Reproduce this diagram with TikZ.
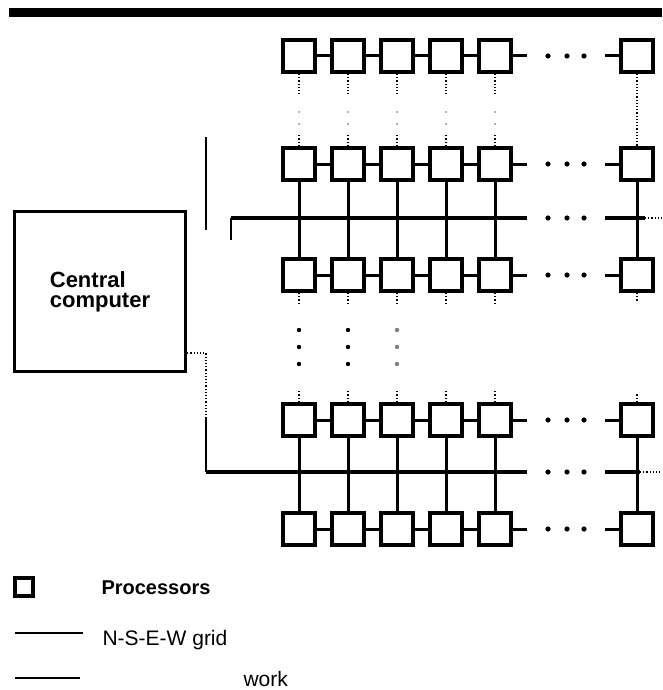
\documentclass[tikz,border=0pt]{standalone}
\usepackage{fontspec}
\setsansfont{Liberation Sans}
\usepackage{tikz}

\tikzset{
  proc/.style={draw, line width=4pt, minimum size=32pt, inner sep=0pt},
  link/.style={line width=3pt},
  bus/.style={line width=3.2pt},
  faint/.style={line width=1.2pt, dotted},
}

\begin{document}
\begin{tikzpicture}[x=1pt, y=-1pt, font=\sffamily]
    \useasboundingbox (0,0) rectangle (662,690);

    % Heavy rule across the top
    \fill (9,8) rectangle (662,17);

    % Processor array (5 rows, 5 columns plus the last one)
    \foreach \r/\y in {1/56,2/164,3/275,4/420,5/529}
        \foreach \c/\x in {1/299,2/348,3/397,4/446,5/495,6/637}
            \node[proc] (p-\r-\c) at (\x,\y) {};

    % E-W links, with dots for the missing columns
    \foreach \r/\y in {1/56,2/164,3/275,4/420,5/529} {
        \foreach \c [evaluate=\c as \n using int(\c+1)] in {1,...,4}
            \draw[link] (p-\r-\c.east) -- (p-\r-\n.west);
        \coordinate (e-\r) at (527,\y);
        \coordinate (w-\r) at (605,\y);
        \draw[link] (p-\r-5.east) -- (e-\r);
        \draw[link] (w-\r) -- (p-\r-6.west);
        \foreach \x in {548,567,584}
            \fill (\x,\y) circle (2.6);
    }

    % N-S links through the buses
    \foreach \c in {1,...,6} {
        \draw[link] (p-2-\c.south) -- (p-3-\c.north);
        \draw[link] (p-4-\c.south) -- (p-5-\c.north);
    }

    % Missing rows (dotted stubs and dots)
    \foreach \c/\x in {1/299,2/348,3/397,4/446,5/495} {
        \draw[faint] (p-1-\c.south) -- ++(0,20);
        \draw[faint] (p-2-\c.north) -- ++(0,-12);
        \fill[gray] (\x,112) circle (1);
        \fill[gray] (\x,124) circle (1);
        \draw[faint] (p-3-\c.south) -- ++(0,12);
        \draw[faint] (p-4-\c.north) -- ++(0,-12);
    }
    \draw[faint] (p-1-6.south) -- (p-2-6.north);
    \draw[faint] (p-3-6.south) -- ++(0,8);
    \draw[faint] (p-4-6.north) -- ++(0,-8);
    \foreach \x/\k in {299/black,348/black,397/gray}
        \foreach \y in {330,347,364}
            \fill[\k] (\x,\y) circle (2.2);

    % Central computer
    \node[draw, line width=3.5pt, minimum width=171pt, minimum height=160pt,
          align=left, font=\sffamily\bfseries\fontsize{22}{20}\selectfont]
          (cc) at (100,291.5) {Central\\computer};

    % Upper bus
    \coordinate (b1-w) at (231,240);
    \coordinate (b1-c) at (231,218);
    \coordinate (b1-e) at (527,218);
    \coordinate (b1-f) at (605,218);
    \coordinate (b1-g) at (645,218);
    \coordinate (b1-h) at (662,218);
    \draw[line width=1.8pt] (b1-w) -- (b1-c);
    \draw[bus] (b1-c) -- (b1-e);
    \draw[bus] (b1-f) -- (b1-g);
    \draw[faint, line width=1.6pt] (b1-g) -- (b1-h);
    \foreach \x in {548,567,584}
        \fill (\x,218) circle (2.6);
    \coordinate (s-a) at (206,137);
    \coordinate (s-b) at (206,230);
    \draw[line width=2pt] (s-a) -- (s-b);

    % Lower bus, fed from the central computer
    \coordinate (b2-a) at (206,353);
    \coordinate (b2-b) at (206,418);
    \coordinate (b2-c) at (206,472);
    \coordinate (b2-e) at (527,472);
    \coordinate (b2-f) at (605,472);
    \coordinate (b2-g) at (640,472);
    \coordinate (b2-h) at (662,472);
    \draw[faint, line width=1.5pt] (cc.east |- b2-a) -- (b2-a) -- (b2-b);
    \draw[line width=2.2pt] (b2-b) -- (b2-c);
    \draw[bus] (b2-c) -- (b2-e);
    \draw[bus] (b2-f) -- (b2-g);
    \draw[faint, line width=1.6pt] (b2-g) -- (b2-h);
    \foreach \x in {548,567,584}
        \fill (\x,472) circle (2.6);

    % Key
    \node[proc, minimum size=18pt, line width=3.5pt] (key-proc) at (24,587) {};
    \node[anchor=base west, font=\sffamily\bfseries\fontsize{20}{20}\selectfont]
          (key-proc-txt) at (98,594) {Processors};
    \coordinate (key-grid-a) at (15,633);
    \coordinate (key-grid-b) at (83,633);
    \draw[line width=2.6pt] (key-grid-a) -- (key-grid-b);
    \node[anchor=base west, font=\sffamily\fontsize{21}{21}\selectfont]
          (key-grid-txt) at (99,645) {N-S-E-W grid};
    \coordinate (key-bus-a) at (15,678);
    \coordinate (key-bus-b) at (80,678);
    \draw[line width=2.6pt] (key-bus-a) -- (key-bus-b);
    \node[anchor=base west, font=\sffamily\fontsize{21}{21}\selectfont]
          (key-bus-txt) at (240,686) {work};
\end{tikzpicture}
\end{document}
